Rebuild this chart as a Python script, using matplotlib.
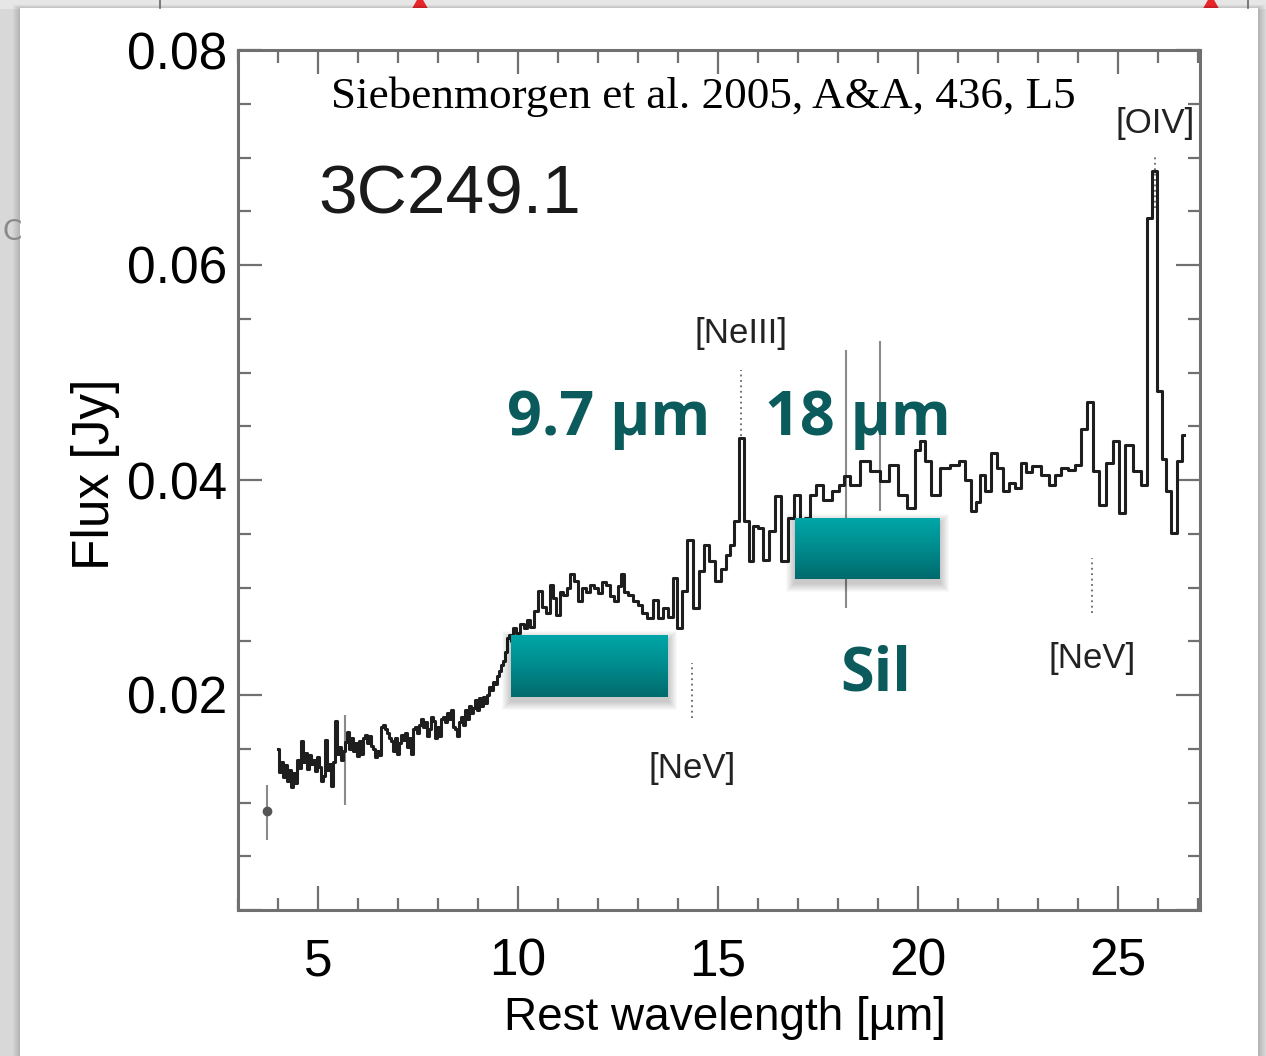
import numpy as np
import matplotlib.pyplot as plt
from matplotlib.ticker import MultipleLocator, FuncFormatter
from matplotlib.patches import Rectangle, Polygon
from matplotlib.colors import LinearSegmentedColormap

plt.rcParams['font.family'] = ['Liberation Sans', 'DejaVu Sans']

# Spitzer IRS spectrum of 3C249.1
wave = [4.00, 4.05, 4.10, 4.15, 4.20, 4.25, 4.30, 4.35, 4.40, 4.45,
        4.50, 4.55, 4.60, 4.65, 4.70, 4.75, 4.80, 4.85, 4.90, 4.95,
        5.00, 5.05, 5.10, 5.15, 5.20, 5.25, 5.30, 5.35, 5.40, 5.45,
        5.50, 5.55, 5.60, 5.65, 5.70, 5.75, 5.80, 5.85, 5.90, 5.95,
        6.00, 6.05, 6.10, 6.15, 6.20, 6.25, 6.30, 6.35, 6.40, 6.45,
        6.50, 6.55, 6.60, 6.65, 6.70, 6.75, 6.80, 6.85, 6.90, 6.95,
        7.00, 7.05, 7.10, 7.15, 7.20, 7.25, 7.30, 7.35, 7.40, 7.45,
        7.50, 7.55, 7.60, 7.65, 7.70, 7.75, 7.80, 7.85, 7.90, 7.95,
        8.00, 8.05, 8.10, 8.15, 8.20, 8.25, 8.30, 8.35, 8.40, 8.45,
        8.50, 8.55, 8.60, 8.65, 8.70, 8.75, 8.80, 8.85, 8.90, 8.95,
        9.00, 9.05, 9.10, 9.15, 9.20, 9.25, 9.30, 9.35, 9.40, 9.45,
        9.50, 9.55, 9.60, 9.65, 9.70, 9.75, 9.80, 9.85, 9.90, 10.00,
        10.10, 10.20, 10.25, 10.35, 10.45, 10.55, 10.65, 10.75, 10.85, 10.92,
        11.00, 11.08, 11.17, 11.27, 11.35, 11.45, 11.57, 11.65, 11.75, 11.85,
        11.95, 12.05, 12.15, 12.25, 12.35, 12.45, 12.55, 12.62, 12.70, 12.80,
        12.95, 13.05, 13.15, 13.30, 13.45, 13.57, 13.70, 13.82, 13.92, 14.05,
        14.17, 14.30, 14.45, 14.60, 14.72, 14.85, 15.02, 15.15, 15.25, 15.35,
        15.47, 15.60, 15.72, 15.82, 15.95, 16.07, 16.20, 16.37, 16.50, 16.65,
        16.85, 16.97, 17.12, 17.25, 17.37, 17.52, 17.75, 17.95, 18.10, 18.22,
        18.40, 18.70, 18.92, 19.18, 19.38, 19.62, 19.85, 20.00, 20.12, 20.25,
        20.42, 20.70, 20.92, 21.12, 21.25, 21.38, 21.50, 21.62, 21.75, 21.90,
        22.05, 22.20, 22.35, 22.50, 22.65, 22.77, 22.95, 23.20, 23.35, 23.50,
        23.65, 23.85, 24.00, 24.15, 24.30, 24.45, 24.60, 24.80, 24.95, 25.10,
        25.25, 25.50, 25.65, 25.80, 25.92, 26.05, 26.15, 26.25, 26.40, 26.55,
        26.65]
flux = [0.0150, 0.0128, 0.0138, 0.0124, 0.0135, 0.0120, 0.0130, 0.0114, 0.0127, 0.0118,
        0.0140, 0.0132, 0.0157, 0.0138, 0.0146, 0.0131, 0.0144, 0.0136, 0.0140, 0.0129,
        0.0142, 0.0133, 0.0120, 0.0125, 0.0158, 0.0130, 0.0136, 0.0115, 0.0138, 0.0176,
        0.0145, 0.0152, 0.0140, 0.0148, 0.0156, 0.0166, 0.0150, 0.0160, 0.0148, 0.0155,
        0.0143, 0.0157, 0.0145, 0.0160, 0.0163, 0.0155, 0.0162, 0.0153, 0.0150, 0.0142,
        0.0148, 0.0144, 0.0170, 0.0172, 0.0168, 0.0165, 0.0160, 0.0157, 0.0148, 0.0160,
        0.0145, 0.0155, 0.0163, 0.0158, 0.0165, 0.0152, 0.0160, 0.0145, 0.0168, 0.0170,
        0.0165, 0.0172, 0.0178, 0.0170, 0.0175, 0.0162, 0.0168, 0.0180, 0.0176, 0.0160,
        0.0170, 0.0162, 0.0178, 0.0180, 0.0175, 0.0183, 0.0178, 0.0186, 0.0170, 0.0168,
        0.0162, 0.0175, 0.0180, 0.0172, 0.0186, 0.0178, 0.0190, 0.0183, 0.0188, 0.0195,
        0.0186, 0.0197, 0.0190, 0.0198, 0.0193, 0.0200, 0.0207, 0.0205, 0.0212, 0.0210,
        0.0218, 0.0222, 0.0228, 0.0232, 0.0240, 0.0253, 0.0256, 0.0250, 0.0262, 0.0258,
        0.0266, 0.0262, 0.0270, 0.0263, 0.0278, 0.0297, 0.0282, 0.0276, 0.0302, 0.0290,
        0.0274, 0.0296, 0.0293, 0.0300, 0.0313, 0.0306, 0.0287, 0.0300, 0.0296, 0.0302,
        0.0300, 0.0295, 0.0305, 0.0302, 0.0292, 0.0287, 0.0301, 0.0313, 0.0296, 0.0293,
        0.0287, 0.0284, 0.0276, 0.0272, 0.0288, 0.0272, 0.0281, 0.0273, 0.0309, 0.0262,
        0.0297, 0.0344, 0.0281, 0.0315, 0.0340, 0.0325, 0.0306, 0.0317, 0.0330, 0.0340,
        0.0362, 0.0439, 0.0362, 0.0325, 0.0357, 0.0355, 0.0326, 0.0353, 0.0385, 0.0325,
        0.0365, 0.0386, 0.0350, 0.0365, 0.0386, 0.0395, 0.0381, 0.0390, 0.0395, 0.0404,
        0.0395, 0.0418, 0.0408, 0.0399, 0.0414, 0.0386, 0.0374, 0.0428, 0.0436, 0.0418,
        0.0386, 0.0411, 0.0414, 0.0418, 0.0400, 0.0371, 0.0380, 0.0405, 0.0390, 0.0425,
        0.0411, 0.0390, 0.0397, 0.0393, 0.0416, 0.0407, 0.0413, 0.0405, 0.0395, 0.0405,
        0.0411, 0.0409, 0.0414, 0.0447, 0.0473, 0.0408, 0.0377, 0.0416, 0.0436, 0.0369,
        0.0433, 0.0408, 0.0395, 0.0644, 0.0687, 0.0483, 0.0420, 0.0390, 0.0351, 0.0418,
        0.0442]

# single photometric point and error bars
phot_wave = [3.73]
phot_flux = [0.0092]
err_wave = [3.73, 5.68, 18.20, 19.05]
err_lo = [0.0065, 0.0098, 0.0281, 0.0371]
err_hi = [0.0116, 0.0181, 0.0521, 0.0529]

# emission line markers
line_names = ['[NeV]', '[NeIII]', '[NeV]', '[OIV]']
line_wave = [14.35, 15.58, 24.35, 25.93]
line_lo = [0.0179, 0.0441, 0.0276, 0.0653]
line_hi = [0.0230, 0.0502, 0.0327, 0.0700]
line_label_y = [0.0123, 0.0527, 0.0225, 0.0723]

# silicate feature boxes and labels
sil_x0 = [9.83, 16.93]
sil_x1 = [13.75, 20.55]
sil_y0 = [0.0198, 0.0308]
sil_y1 = [0.0255, 0.0364]
sil_names = ['9.7 µm', '18 µm', 'Sil']
sil_text_x = [9.72, 16.17, 18.05]
sil_text_y = [0.0442, 0.0442, 0.0204]

teal = '#0b5b5d'

fig = plt.figure(figsize=(12.66, 10.56), dpi=100)

# slide background behind the white card
bg = fig.add_axes([0, 0, 1, 1])
bg.add_patch(Rectangle((0, 0), 1266, 1056, color='#d8d8d8'))
gcm = LinearSegmentedColormap.from_list('g', ['#0c281b', '#1b5439', '#205d3f', '#1f5b3d'])
bg.imshow(np.linspace(0, 1, 256)[:, None], cmap=gcm, extent=(0, 1266, 1056, 408), aspect='auto')
bg.add_patch(Rectangle((0, 0), 1266, 8, color='#e6e6e6'))
bg.plot([160, 160], [0, 8], color='#666666', lw=1.2)
bg.plot([1248, 1248], [0, 8], color='#666666', lw=1.2)
bg.add_patch(Polygon([[412, 10], [428, 10], [420, -4]], color='#e8262a'))
bg.add_patch(Polygon([[1203, 10], [1219, 10], [1211, -4]], color='#e8262a'))
bg.text(2, 232, 'C', fontsize=20, color='#8a8a8a', va='center', family='DejaVu Sans')
for k in range(8):
    bg.add_patch(Rectangle((20 - k, 8 - k * 0.5), 1238 + 2 * k, 1060, color='black',
                           alpha=0.025, lw=0))
bg.add_patch(Rectangle((20, 8), 1238, 1060, color='white', lw=0))
bg.set_xlim(0, 1266)
bg.set_ylim(1056, 0)
bg.axis('off')

ax = fig.add_axes([238 / 1266, 1 - 910 / 1056, 962 / 1266, 860 / 1056])
ax.set_facecolor('white')

ax.step(wave, flux, where='mid', color='#1e1e1e', lw=2.2, zorder=3)
ax.vlines(err_wave, err_lo, err_hi, color='#8a8a8a', lw=1.5, zorder=2)
ax.plot(phot_wave, phot_flux, 'o', color='#555555', ms=6, zorder=3)

ax.vlines(line_wave, line_lo, line_hi, color='#666666', lw=1.3, linestyles=(0, (1, 2)), zorder=2)
for name, xw, yl in zip(line_names, line_wave, line_label_y):
    ax.text(xw, yl, name, fontsize=25, ha='center', va='baseline', color='#222222')

# gradient boxes marking the silicate features, with a soft shadow
px_x = 0.025
px_y = 0.02 / 215
box_cm = LinearSegmentedColormap.from_list('t', ['#00a6a8', '#008b8d', '#006a6d'])
for x0, x1, y0, y1 in zip(sil_x0, sil_x1, sil_y0, sil_y1):
    for k in range(1, 10):
        ax.add_patch(Rectangle((x0 - k * px_x, y0 - (k + 4) * px_y),
                               x1 - x0 + 2 * k * px_x, y1 - y0 + 2 * k * px_y,
                               color='black', alpha=0.022, lw=0, zorder=4))
    ax.imshow(np.linspace(0, 1, 128)[:, None], cmap=box_cm, extent=(x0, x1, y0, y1),
              origin='upper', aspect='auto', zorder=5)

for name, tx, ty in zip(sil_names, sil_text_x, sil_text_y):
    ax.text(tx, ty, name, fontsize=44, fontweight='bold', color=teal, family='Open Sans',
            ha='left', va='baseline', zorder=6)

ax.text(5.0, 0.0648, '3C249.1', fontsize=50, color='#1a1a1a', ha='left', va='baseline')
ax.text(0.484, 0.933, 'Siebenmorgen et al. 2005, A&A, 436, L5', transform=ax.transAxes,
        fontsize=32.5, family='Liberation Serif', ha='center', va='baseline', color='black')

ax.set_xlim(3, 27.05)
ax.set_ylim(0, 0.08)
ax.xaxis.set_major_locator(MultipleLocator(5))
ax.xaxis.set_minor_locator(MultipleLocator(1))
ax.yaxis.set_major_locator(MultipleLocator(0.02))
ax.yaxis.set_minor_locator(MultipleLocator(0.005))
ax.yaxis.set_major_formatter(FuncFormatter(lambda v, p: '' if v < 0.001 else '%.2f' % v))
ax.tick_params(which='both', direction='in', top=True, right=True, color='#707070', width=1.6)
ax.tick_params(which='major', length=17, labelsize=37)
ax.tick_params(which='minor', length=9)
ax.tick_params(axis='x', pad=20)
ax.tick_params(axis='y', pad=8)
for s in ax.spines.values():
    s.set_color('#707070')
    s.set_linewidth(2.2)

fig.text(725 / 1266, 1 - 1018 / 1056, 'Rest wavelength [µm]', fontsize=33, ha='center', va='center')
fig.text(95 / 1266, 1 - 474 / 1056, 'Flux [Jy]', fontsize=37, rotation=90, ha='center', va='center')

fig.savefig('out.png', dpi=100)
